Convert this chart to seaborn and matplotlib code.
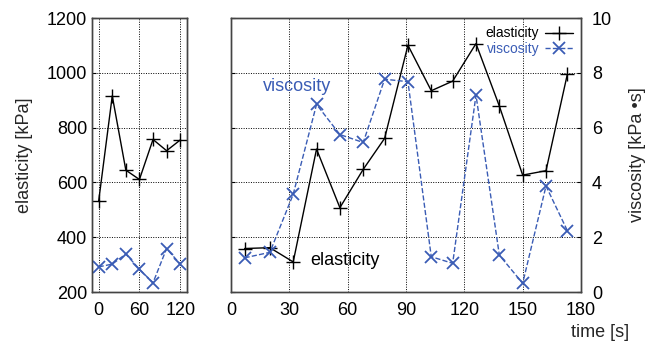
import numpy as np
import pandas as pd
import matplotlib
matplotlib.use('Agg')
import matplotlib.pyplot as plt
import seaborn as sns

# data
t_left = [0, 20, 40, 60, 80, 100, 120]
elast_left = [532, 916, 645, 611, 757, 716, 755]
visc_left = [0.92, 1.02, 1.39, 0.83, 0.34, 1.59, 1.02]

t_right = [7, 20, 32, 44, 56, 68, 79, 91, 103, 114, 126, 138, 150, 162, 173]
elast_right = [359, 362, 310, 722, 508, 648, 761, 1101, 935, 970, 1107, 879, 627, 643, 996]
visc_right = [1.25, 1.45, 3.57, 6.85, 5.75, 5.46, 7.77, 7.68, 1.29, 1.05, 7.19, 1.35, 0.32, 3.87, 2.24]

elast_ticks = [200, 400, 600, 800, 1000, 1200]
visc_ticks = [0, 2, 4, 6, 8, 10]

BLUE = '#3a5cb5'
FS = 13

sns.set_style('white')
plt.rcParams['font.family'] = ['Liberation Sans', 'DejaVu Sans']

fig = plt.figure(figsize=(6.47, 3.42), dpi=100)
ax_l = fig.add_axes([0.142, 0.146, 0.147, 0.801])
ax_r = fig.add_axes([0.357, 0.146, 0.541, 0.801])
tw_l = ax_l.twinx()
tw_r = ax_r.twinx()


def draw(ax, tw, t, el, vi):
    sns.lineplot(x=t, y=el, ax=ax, color='black', lw=1.0, marker='+',
                 markersize=10, markeredgewidth=1.0, markeredgecolor='black',
                 label='elasticity', legend=False)
    sns.lineplot(x=t, y=vi, ax=tw, color=BLUE, lw=1.0, ls='--', marker='x',
                 markersize=8, markeredgewidth=1.3, markeredgecolor=BLUE,
                 label='viscosity', legend=False)
    ax.set_ylim(200, 1200)
    tw.set_ylim(0, 10)
    ax.set_yticks(elast_ticks)
    tw.set_yticks(visc_ticks)
    ax.grid(True, color='black', ls=(0, (1, 1.5)), lw=0.7)
    ax.set_axisbelow(True)
    for a in (ax, tw):
        for s in a.spines.values():
            s.set_color('#444444')
            s.set_linewidth(1.0)
        a.tick_params(direction='in', length=3, labelsize=FS, colors='black')
    ax.tick_params(axis='x', pad=7)


draw(ax_l, tw_l, t_left, elast_left, visc_left)
draw(ax_r, tw_r, t_right, elast_right, visc_right)

ax_l.set_xlim(-10, 130)
ax_l.set_xticks([0, 60, 120])
tw_l.set_yticklabels([])
tw_l.tick_params(length=0)
ax_l.set_ylabel('elasticity [kPa]', fontsize=FS, labelpad=10)

ax_r.set_xlim(0, 180)
ax_r.set_xticks([0, 30, 60, 90, 120, 150, 180])
ax_r.set_yticklabels([])
tw_r.tick_params(axis='y', pad=8)
tw_r.set_ylabel('viscosity [kPa \u2022s]', fontsize=FS, labelpad=12)

ax_r.text(16.5, 935, 'viscosity', color=BLUE, fontsize=FS)
ax_r.text(41, 300, 'elasticity', color='black', fontsize=FS)

h1, l1 = ax_r.get_legend_handles_labels()
h2, l2 = tw_r.get_legend_handles_labels()
tw_r.legend(h1 + h2, l1 + l2, loc='upper right', frameon=False, markerfirst=False,
            fontsize=10, labelcolor='linecolor', handlelength=2.0,
            borderaxespad=0.2, labelspacing=0.1, handletextpad=0.4)

fig.text(0.927, 0.015, 'time [s]', fontsize=FS, ha='center')

fig.savefig('out.png', dpi=100)
